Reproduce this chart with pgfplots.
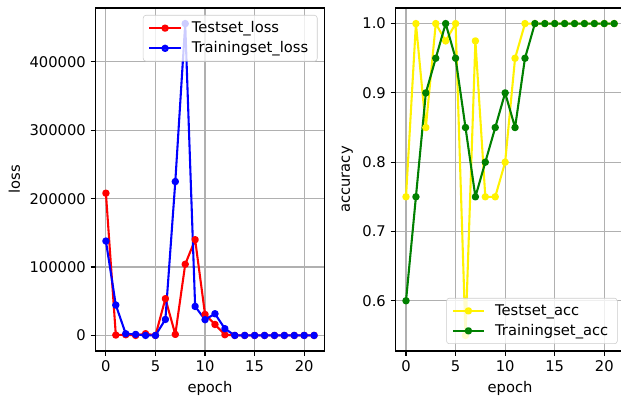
\documentclass[border=0pt]{standalone}
\usepackage{fontspec}
\setmainfont{DejaVu Sans}
\usepackage{pgfplots}
\usepackage{pgfplotstable}
\pgfplotsset{compat=1.18}

\definecolor{mplgrid}{HTML}{B0B0B0}
\definecolor{mplgreen}{HTML}{008000}
\definecolor{legframe}{HTML}{CCCCCC}

% epoch, test/train loss, test/train accuracy
\pgfplotstableread{
epoch testloss trainloss testacc trainacc
0  208000 138000 0.75  0.60
1  500    44400  1.00  0.75
2  1000   2400   0.85  0.90
3  0      1500   1.00  0.95
4  2500   0      0.975 1.00
5  0      0      1.00  0.95
6  53700  23400  0.55  0.85
7  1500   225000 0.975 0.75
8  104000 456000 0.75  0.80
9  140000 42400  0.75  0.85
10 30700  23000  0.80  0.90
11 16000  31700  0.95  0.85
12 1000   9800   1.00  0.95
13 0      0      1.00  1.00
14 0      0      1.00  1.00
15 0      0      1.00  1.00
16 0      0      1.00  1.00
17 0      0      1.00  1.00
18 0      0      1.00  1.00
19 0      0      1.00  1.00
20 0      0      1.00  1.00
21 0      0      1.00  1.00
}\history

\newcommand\mplfont{\fontsize{10.6bp}{12.7bp}\selectfont}

\pgfplotsset{
  mpl panel/.style={
    width=2.29in, height=3.43in, scale only axis,
    anchor=south west,
    xmin=-1.05, xmax=22.05,
    xtick={0,5,10,15,20},
    axis line style={draw=black, line width=0.8bp},
    tick style={draw=black, line width=0.8bp},
    tick align=outside,
    major tick length=3.5bp,
    xtick pos=bottom, ytick pos=left,
    grid=major,
    major grid style={draw=mplgrid, line width=0.8bp},
    tick label style={font=\mplfont},
    label style={font=\mplfont},
    /pgf/number format/assume math mode=true,
    legend style={
      font=\mplfont,
      draw=legframe, fill=white, fill opacity=0.8, text opacity=1,
      rounded corners=2bp, cells={anchor=west},
      row sep=1bp, inner xsep=4.5bp, inner ysep=2.5bp,
      /tikz/every odd column/.append style={column sep=6bp},
    },
    legend image code/.code={
      \draw[mark repeat=2,mark phase=2, line cap=rect]
        plot coordinates {(0bp,0bp) (10.5bp,0bp) (21bp,0bp)};
    },
    every axis plot/.append style={line width=1.5bp, line join=round,
      mark=*, mark size=1.9bp, mark options={solid}},
    xlabel={epoch},
  },
}

\begin{document}
\begin{tikzpicture}
  \path[use as bounding box] (0,0) rectangle (6.21in,4.00in);

  \begin{axis}[
    mpl panel,
    at={(0.955in,0.49in)},
    ymin=-22800, ymax=478800,
    ytick={0,100000,200000,300000,400000},
    scaled y ticks=false,
    yticklabel style={/pgf/number format/fixed, /pgf/number format/1000 sep={}},
    ylabel={loss},
    legend style={at={(1,1)}, anchor=north east, xshift=-0.07in, yshift=-0.07in},
  ]
    \addplot[color=red, mark options={fill=red}] table[x=epoch, y=testloss] {\history};
    \addlegendentry{Testset\_loss}
    \addplot[color=blue, mark options={fill=blue}] table[x=epoch, y=trainloss] {\history};
    \addlegendentry{Trainingset\_loss}
  \end{axis}

  \begin{axis}[
    mpl panel,
    at={(3.956in,0.49in)},
    ymin=0.5275, ymax=1.0225,
    ytick={0.6,0.7,0.8,0.9,1.0},
    yticklabel style={/pgf/number format/fixed, /pgf/number format/fixed zerofill,
      /pgf/number format/precision=1},
    ylabel={accuracy},
    legend style={at={(1,0)}, anchor=south east, xshift=-0.07in, yshift=0.07in},
  ]
    \addplot[color=yellow, mark options={fill=yellow}] table[x=epoch, y=testacc] {\history};
    \addlegendentry{Testset\_acc}
    \addplot[color=mplgreen, mark options={fill=mplgreen}] table[x=epoch, y=trainacc] {\history};
    \addlegendentry{Trainingset\_acc}
  \end{axis}
\end{tikzpicture}
\end{document}
